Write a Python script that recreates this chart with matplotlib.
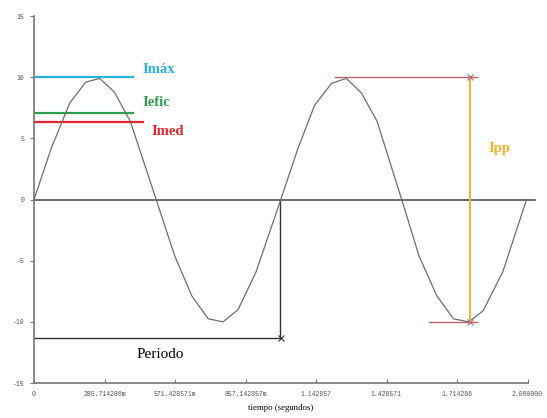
import matplotlib
matplotlib.use("Agg")
import matplotlib.pyplot as plt

plt.rcParams["axes.unicode_minus"] = False

t_s = [0, 0.07, 0.145, 0.21, 0.266, 0.325, 0.39, 0.495, 0.57, 0.64, 0.706, 0.766,
       0.827, 0.9, 1.0, 1.07, 1.137, 1.206, 1.266, 1.327, 1.39, 1.49, 1.56, 1.633,
       1.70, 1.762, 1.82, 1.9, 1.996]
i_a = [0, 4.2, 7.9, 9.6, 9.9, 8.8, 6.4, 0, -4.6, -7.9, -9.75, -10.0,
       -9.0, -5.9, 0, 4.2, 7.7, 9.5, 9.9, 8.7, 6.4, 0, -4.6, -7.9,
       -9.75, -10.0, -9.1, -5.9, 0]

# reference levels
i_max = 10.0
i_efic = 7.07
i_med = 6.3
periodo = 1.0
t_ipp = 1.767

xticks = [0, 2 / 7, 4 / 7, 6 / 7, 8 / 7, 10 / 7, 12 / 7, 2.0]
xtick_labels = ["0", "285.714286m", "571.428571m", "857.142857m",
                "1.142857", "1.428571", "1.714286", "2.000000"]
yticks = [-15, -10, -5, 0, 5, 10, 15]

c_max = "#2BB0E0"
c_efic = "#2E9E4A"
c_med = "#E8242A"
c_ipp = "#F2B22E"
c_rose = "#B5646C"

fig = plt.figure(figsize=(5.47, 4.18), dpi=100)
ax = fig.add_axes([0.0622, 0.0837, 0.9022, 0.878])

ax.plot(t_s, i_a, color="#6e6e6e", lw=0.9, zorder=3)
ax.plot([0, 2.03], [0, 0], color="#444444", lw=1.1, clip_on=False, zorder=2)

# Imax / Iefic / Imed
ax.plot([0, 0.4], [i_max, i_max], color=c_max, lw=1.6)
ax.plot([0, 0.4], [i_efic, i_efic], color=c_efic, lw=1.6)
ax.plot([0, 0.44], [i_med, i_med], color=c_med, lw=1.6)
ax.text(0.44, 10.6, "Imáx", color=c_max, family="Liberation Serif",
        fontweight="bold", fontsize=10.5, va="center")
ax.text(0.44, 7.9, "Iefic", color=c_efic, family="Liberation Serif",
        fontweight="bold", fontsize=10.5, va="center")
ax.text(0.475, 5.6, "Imed", color=c_med, family="Liberation Serif",
        fontweight="bold", fontsize=10.5, va="center")

# Ipp
ax.plot([1.22, t_ipp + 0.03], [i_max, i_max], color=c_rose, lw=1.0)
ax.plot([1.60, t_ipp + 0.03], [-i_max, -i_max], color=c_rose, lw=1.0)
ax.plot([t_ipp, t_ipp], [-i_max, i_max], color=c_ipp, lw=1.4, zorder=4)
ax.plot([t_ipp, t_ipp], [-i_max, i_max], ls="none", marker="x", ms=5,
        mew=0.8, color=c_rose, zorder=5)
ax.text(1.84, 4.2, "Ipp", color=c_ipp, family="Liberation Serif",
        fontweight="bold", fontsize=10.5, va="center")

# Periodo
y_per = -11.3
ax.plot([0, periodo], [y_per, y_per], color="#333333", lw=1.0)
ax.plot([periodo - 0.005, periodo - 0.005], [0, y_per], color="#333333", lw=1.0)
ax.plot([periodo], [y_per], ls="none", marker="x", ms=4, mew=0.8,
        color="#333333")
ax.text(0.417, -12.7, "Periodo", color="black", family="Liberation Serif",
        fontsize=11, va="center")

ax.set_xlim(0, 2.0)
ax.set_ylim(-15, 15)
ax.set_xticks(xticks)
ax.set_xticklabels(xtick_labels)
ax.set_yticks(yticks)
for spine in ["top", "right"]:
    ax.spines[spine].set_visible(False)
for spine in ["left", "bottom"]:
    ax.spines[spine].set_color("#777777")
    ax.spines[spine].set_linewidth(1.2)
ax.tick_params(axis="x", direction="in", length=3, color="#777777",
               labelsize=4.7, labelcolor="#555555", pad=6)
ax.tick_params(axis="y", direction="out", length=3, color="#777777",
               labelsize=4.7, labelcolor="#555555", pad=4)
for lab in ax.get_xticklabels() + ax.get_yticklabels():
    lab.set_family("Liberation Mono")
ax.set_xlabel("tiempo (segundos)", family="Liberation Serif", fontsize=6.3,
              labelpad=4)

fig.savefig("out.png", dpi=100)
